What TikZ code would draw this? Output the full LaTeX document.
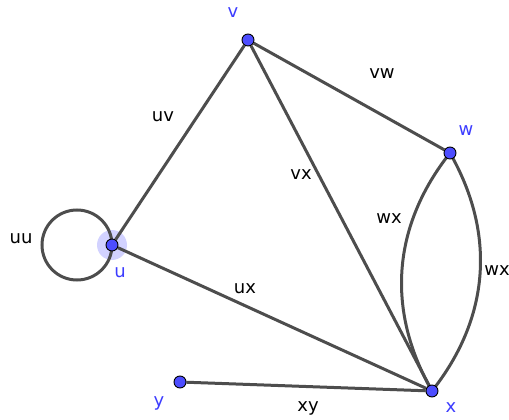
\documentclass[tikz,border=0pt]{standalone}
\usepackage{fontspec}
\setmainfont{DejaVu Sans}
\usetikzlibrary{backgrounds}
\definecolor{edgecol}{RGB}{77,77,77}
\definecolor{vblue}{RGB}{77,77,255}
\definecolor{lblue}{RGB}{60,60,255}
\begin{document}
\begin{tikzpicture}[x=1pt,y=-1pt,
  vert/.style={circle,draw=black,line width=0.9pt,fill=vblue,minimum size=12pt,inner sep=0pt},
  edge/.style={draw=edgecol,line width=3pt},
  vlab/.style={text=lblue,font=\fontsize{18}{21}\selectfont,inner sep=0pt},
  elab/.style={text=black,font=\fontsize{18}{21}\selectfont,inner sep=0pt}]
\useasboundingbox (0,0) rectangle (509,420);
\node[vert] (v) at (248,40) {};
\node[vert] (w) at (450,153) {};
\node[vert] (u) at (112,245) {};
\node[vert] (x) at (432,391) {};
\node[vert] (y) at (180,382) {};
\begin{scope}[on background layer]
  \fill[vblue,opacity=0.25] (u.center) circle[radius=15];
  \draw[edge] (u.center) arc[start angle=0,end angle=360,radius=35];
  \draw[edge] (u) -- (v);
  \draw[edge] (v) -- (w);
  \draw[edge] (v) -- (x);
  \draw[edge] (u) -- (x);
  \draw[edge] (y) -- (x);
  \draw[edge] (w.center) to[bend right=34] (x.center);
  \draw[edge] (w.center) to[bend left=34] (x.center);
\end{scope}
\node[vlab] (lv) at (233,13) {v};
\node[vlab] (lw) at (466,131) {w};
\node[vlab] (lu) at (120,273) {u};
\node[vlab] (lx) at (451,408) {x};
\node[vlab] (ly) at (159,403) {y};
\node[elab] (luv) at (163,117) {uv};
\node[elab] (lvw) at (382,74) {vw};
\node[elab] (lvx) at (301,175) {vx};
\node[elab] (lwx1) at (389,219) {wx};
\node[elab] (lwx2) at (497,271) {wx};
\node[elab] (lux) at (245,289) {ux};
\node[elab] (luu) at (21,239) {uu};
\node[elab] (lxy) at (308,408) {xy};
\end{tikzpicture}
\end{document}
